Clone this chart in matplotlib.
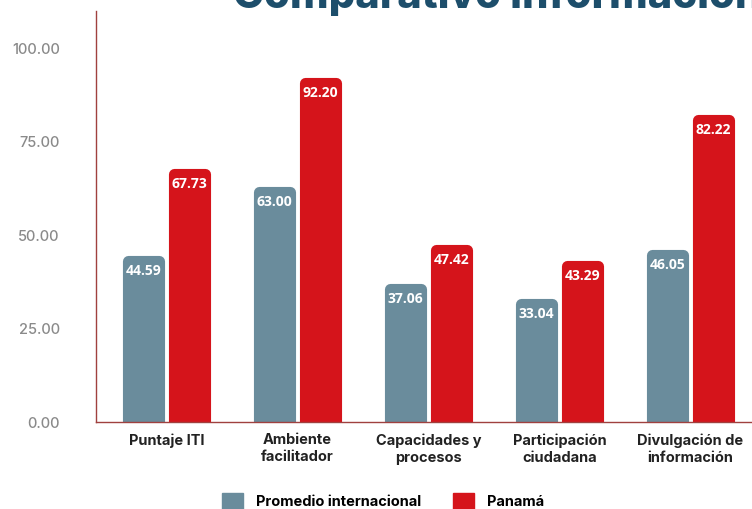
import numpy as np
import matplotlib
matplotlib.use("Agg")
import matplotlib.pyplot as plt
from matplotlib.patches import Patch
from matplotlib.transforms import ScaledTranslation

# ---------------------------------------------------------------------------
# Data
# ---------------------------------------------------------------------------
categories = ["Puntaje ITI", "Ambiente\nfacilitador", "Capacidades y\nprocesos",
              "Participación\nciudadana", "Divulgación de\ninformación"]
promedio = [44.59, 63.00, 37.06, 33.04, 46.05]
panama = [67.73, 92.20, 47.42, 43.29, 82.22]
series_names = ["Promedio internacional", "Panamá"]
yticks = [0, 25, 50, 75, 100]
title = "Comparativo información"

GRAY = "#6a8c9c"
RED = "#d5141b"
SPINE = "#a0413f"
FONT = "Inter"

plt.rcParams["font.family"] = [FONT, "DejaVu Sans"]

fig = plt.figure(figsize=(7.52, 5.09), dpi=100)
ax = fig.add_axes([96 / 752, 1 - 422 / 509, 665 / 752, 411 / 509])

x = np.arange(len(categories))
offset = 0.175
width = 0.235
lw = 8  # thick same-colour edge gives the rounded corners
# shift bars down by half the edge width so the top sits at the value
shift = ax.transData + ScaledTranslation(0, -lw / 2 / 72, fig.dpi_scale_trans)

for vals, dx, color in [(promedio, -offset, GRAY), (panama, offset, RED)]:
    bars = ax.bar(x + dx, vals, width=width, color=color, edgecolor=color,
                  linewidth=lw, joinstyle="round", zorder=2)
    for b, v in zip(bars, vals):
        b.set_transform(shift)
        ax.annotate(f"{v:.2f}", (b.get_x() + b.get_width() / 2, v),
                    xytext=(0, -11), textcoords="offset points",
                    ha="center", va="center", color="white",
                    fontsize=10, fontweight="bold", zorder=3,
                    family=["Open Sans", "DejaVu Sans"])

ax.set_xlim(-0.54, 4.54)
ax.set_ylim(0, 110)
ax.set_yticks(yticks)
ax.set_yticklabels([f"{t:.2f}" for t in yticks], color="#8a8a8a", fontsize=10.5,
                   fontweight="medium")
ax.set_xticks(x)
ax.set_xticklabels(categories, fontsize=10.5, fontweight="bold", color="#222222",
                   linespacing=1.3)
ax.tick_params(axis="y", length=0, pad=26)
ax.tick_params(axis="x", length=0, pad=8)

for s in ["top", "right"]:
    ax.spines[s].set_visible(False)
for s in ["left", "bottom"]:
    ax.spines[s].set_color(SPINE)
    ax.spines[s].set_linewidth(1.0)

fig.text(233 / 752, 1 - 8 / 509, title, ha="left", va="baseline",
         fontsize=30, fontweight="heavy", color="#1d4e6b")

handles = [Patch(facecolor=GRAY, edgecolor=GRAY, label=series_names[0]),
           Patch(facecolor=RED, edgecolor=RED, label=series_names[1])]
fig.legend(handles=handles, loc="center", bbox_to_anchor=(383 / 752, 1 - 501 / 509),
           ncol=2, frameon=False, handlelength=1.4, handleheight=1.4,
           columnspacing=2.2, handletextpad=0.9,
           prop={"weight": "bold", "size": 10.5})

fig.savefig("out.png", dpi=100)
